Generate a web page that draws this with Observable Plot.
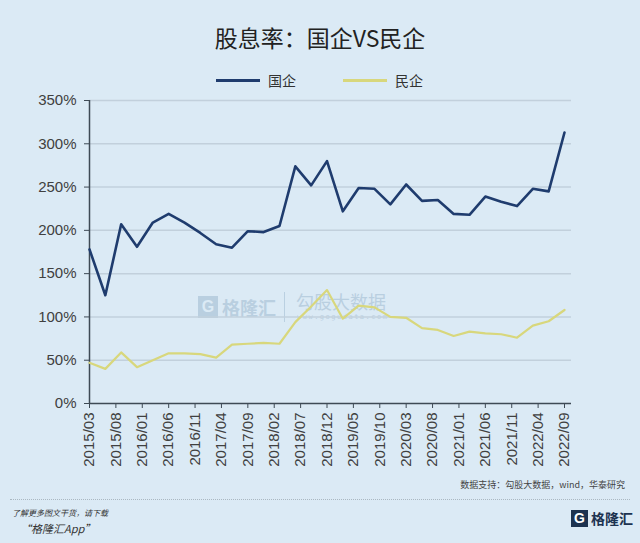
<!DOCTYPE html>
<html>
<head>
<meta charset="utf-8">
<script src="https://cdn.jsdelivr.net/npm/d3@7"></script>
<script src="https://cdn.jsdelivr.net/npm/@observablehq/plot@0.6"></script>
<style>
  html, body { margin: 0; padding: 0; }
  #page { position: relative; width: 640px; height: 543px; background: #dbeaf5; overflow: hidden; font-family: "Noto Sans CJK SC", "Noto Sans", sans-serif; }
  #title { position: absolute; top: 20px; left: 0; width: 640px; text-align: center; font-size: 23px; color: #222; line-height: 34px; }
  #legend { position: absolute; top: 70px; left: 0; width: 640px; height: 20px; font-size: 14px; color: #333; }
  .lg { position: absolute; top: 0; display: flex; align-items: center; height: 20px; white-space: nowrap; }
  .sw { display: inline-block; width: 44px; height: 3px; margin-right: 8px; }
  #chart { position: absolute; top: 90px; left: 0; }
  #source { position: absolute; top: 478px; right: 15px; font-size: 9px; color: #444; white-space: nowrap; }
  #sep { position: absolute; top: 499px; left: 10px; width: 620px; border-top: 1px dotted #aab8c2; }
  #dl1 { position: absolute; top: 507px; left: 12px; font-size: 8px; font-style: italic; color: #333; white-space: nowrap; }
  #dl2 { position: absolute; top: 520px; left: 20px; font-size: 11px; font-style: italic; color: #333; white-space: nowrap; }
  #logo { position: absolute; top: 510px; left: 571px; display: flex; align-items: center; white-space: nowrap; }
  #logo .g { width: 17px; height: 17px; background: #1d3350; color: #fff; font: bold 14px "Liberation Sans", Arial, sans-serif; text-align: center; line-height: 17px; margin-right: 3px; }
  #logo .t { font-size: 14px; font-weight: bold; color: #1d3350; line-height: 17px; white-space: nowrap; }
  .wm { position: absolute; color: #9fb9cf; opacity: 0.55; white-space: nowrap; }
  #wmg { top: 296px; left: 198px; width: 20px; height: 22px; background: #9fb9cf; color: #dbeaf5; font: bold 16px "Liberation Sans", Arial, sans-serif; text-align: center; line-height: 22px; }
  #wm1 { top: 296px; left: 222px; font-size: 18px; font-weight: bold; line-height: 22px; }
  #wmb { top: 292px; left: 284px; width: 1px; height: 30px; background: #9fb9cf; }
  #wm2 { top: 291px; left: 296px; font-size: 18px; line-height: 20px; }
  #wm3 { top: 313px; left: 297px; font-size: 7px; line-height: 8px; letter-spacing: 1.5px; font-family: "DejaVu Sans Mono", monospace; }
</style>
</head>
<body>
<div id="page">
  <div id="title">股息率：国企VS民企</div>
  <div id="legend">
    <div class="lg" style="left:216px"><span class="sw" style="background:#1f3c6e"></span><span>国企</span></div>
    <div class="lg" style="left:343px"><span class="sw" style="background:#d8d77c"></span><span>民企</span></div>
  </div>
  <div class="wm" id="wmg">G</div>
  <div class="wm" id="wm1">格隆汇</div>
  <div class="wm" id="wmb"></div>
  <div class="wm" id="wm2">勾股大数据</div>
  <div class="wm" id="wm3">www.gogudata.com</div>
  <div id="chart"></div>
  <div id="source">数据支持：勾股大数据，wind，华泰研究</div>
  <div id="sep"></div>
  <div id="dl1">了解更多图文干货，请下载</div>
  <div id="dl2">“格隆汇App”</div>
  <div id="logo"><div class="g">G</div><div class="t">格隆汇</div></div>
</div>
<script>
const periods = ["2015/03","2015/06","2015/09","2015/12","2016/03","2016/06","2016/09","2016/12",
  "2017/03","2017/06","2017/09","2017/12","2018/03","2018/06","2018/09","2018/12",
  "2019/03","2019/06","2019/09","2019/12","2020/03","2020/06","2020/09","2020/12",
  "2021/03","2021/06","2021/09","2021/12","2022/03","2022/06","2022/09"];
const soe = [178,125,207,181,209,219,209,197,184,180,199,198,205,274,252,280,
  222,249,248,230,253,234,235,219,218,239,233,228,248,245,313];
const poe = [47,40,59,42,50,58,58,57,53,68,69,70,69,94,112,131,
  98,113,111,100,99,87,85,78,83,81,80,76,90,95,108];
const xTickLabels = ["2015/03","2015/08","2016/01","2016/06","2016/11","2017/04","2017/09",
  "2018/02","2018/07","2018/12","2019/05","2019/10","2020/03","2020/08","2021/01",
  "2021/06","2021/11","2022/04","2022/09"];
const yTicks = [0,50,100,150,200,250,300,350];

const toM = s => { const [y, m] = s.split("/").map(Number); return y * 12 + (m - 1); };
const fromM = v => { const y = Math.floor(v / 12), m = v - y * 12 + 1; return y + "/" + String(m).padStart(2, "0"); };

const rows = periods.map((p, i) => ({m: toM(p), soe: soe[i], poe: poe[i]}));
const xTicks = xTickLabels.map(toM);
const x0 = toM(periods[0]), x1 = toM(periods[periods.length - 1]);

const chart = Plot.plot({
  width: 640,
  height: 380,
  marginLeft: 89,
  marginRight: 69,
  marginTop: 10,
  marginBottom: 67,
  style: {background: "transparent", fontFamily: "'Liberation Sans', Arial, sans-serif", fontSize: "15px", color: "#404040", overflow: "visible"},
  x: {type: "linear", domain: [x0, x1], insetRight: 7},
  y: {domain: [0, 350]},
  marks: [
    Plot.gridY(yTicks.filter(d => d > 0), {stroke: "#c2d0dc", strokeOpacity: 1, strokeWidth: 1.5}),
    Plot.axisY(yTicks, {tickFormat: d => d + "%", tickSize: 5, tickPadding: 8, stroke: "#3e4a55", fill: "#404040", label: null, fontSize: 15}),
    Plot.axisX(xTicks, {tickFormat: fromM, tickRotate: -90, tickSize: 5, tickPadding: 4, stroke: "#3e4a55", fill: "#404040", label: null, fontSize: 15}),
    Plot.ruleY([0], {stroke: "#3e4a55", strokeWidth: 1.5}),
    Plot.ruleX([x0], {y1: 0, y2: 350, stroke: "#3e4a55", strokeWidth: 1.5}),
    Plot.line(rows, {x: "m", y: "poe", stroke: "#d8d77c", strokeWidth: 2.2}),
    Plot.line(rows, {x: "m", y: "soe", stroke: "#1f3c6e", strokeWidth: 2.6})
  ]
});
document.getElementById("chart").appendChild(chart);
</script>
</body>
</html>
